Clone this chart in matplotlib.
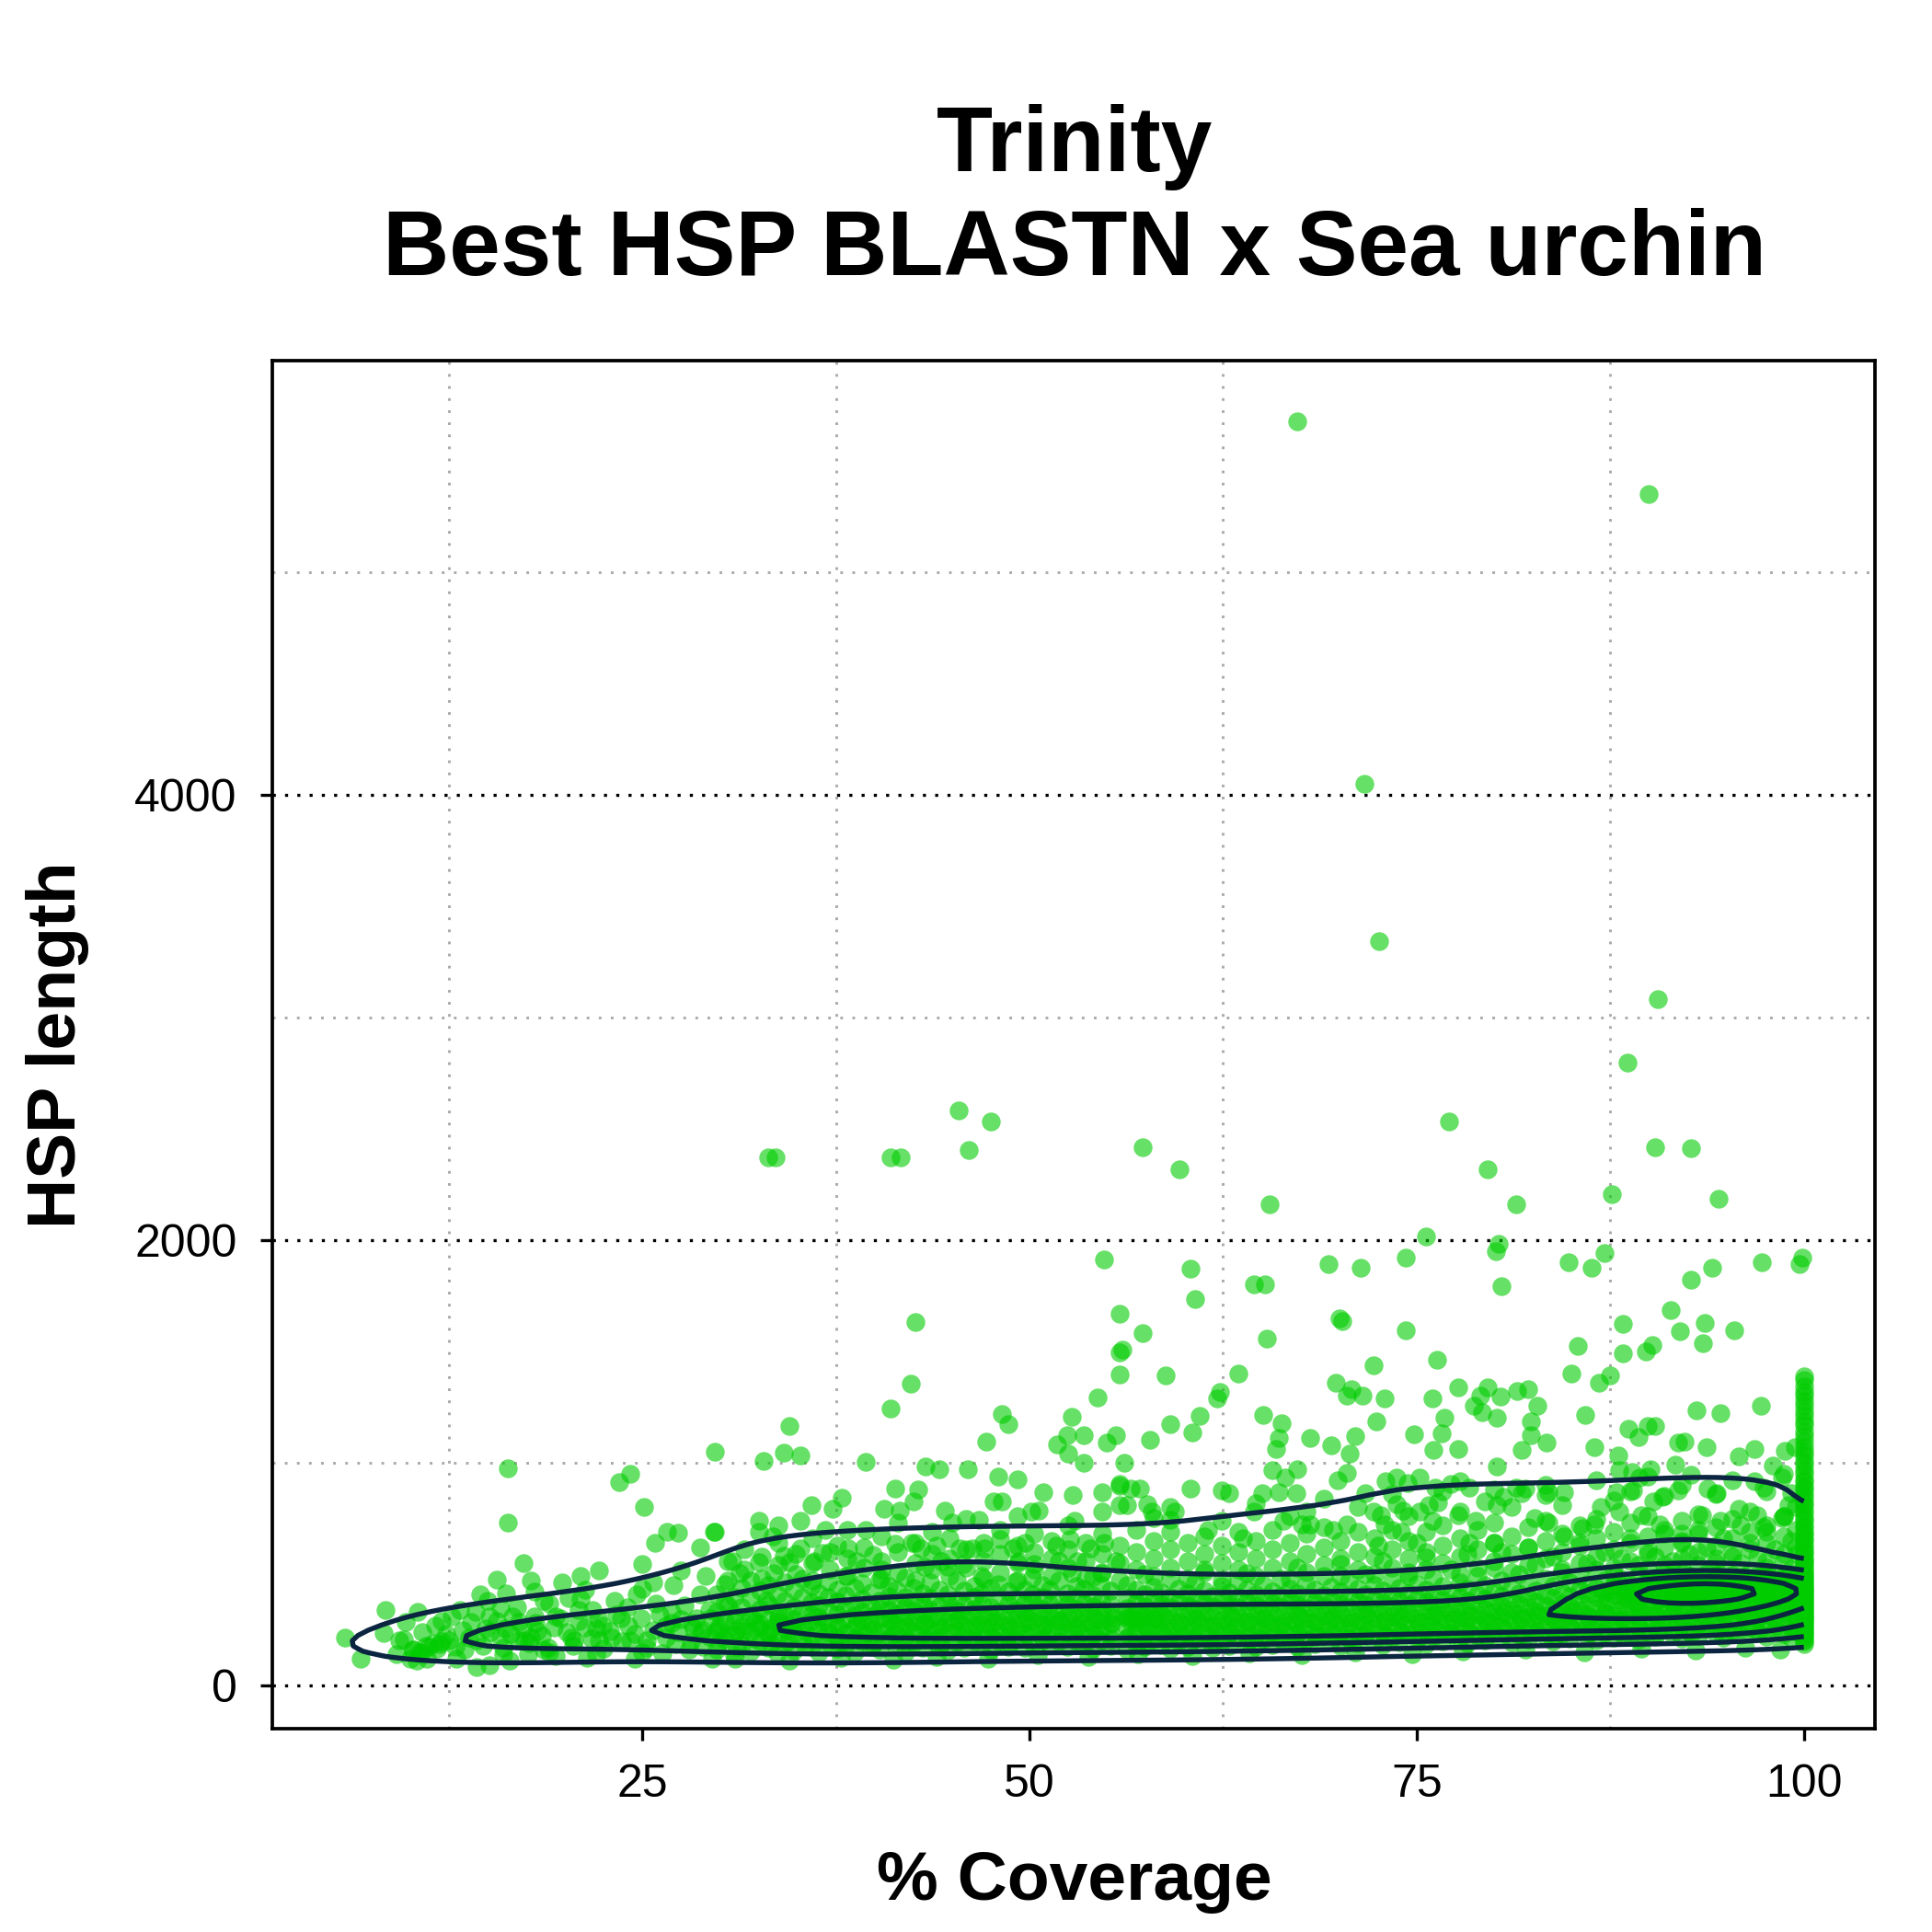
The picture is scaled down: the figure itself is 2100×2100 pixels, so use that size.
import numpy as np
import matplotlib
matplotlib.use("Agg")
import matplotlib.pyplot as plt

plt.rcParams['font.family'] = ['Liberation Sans', 'DejaVu Sans']

# ---- data (coverage %, HSP length) ----
# sparse high points
outliers = [
    (67.3, 5676), (90.0, 5350), (71.6, 4050), (72.6, 3342), (90.6, 3082), (88.6, 2797),
    (45.4, 2581), (47.5, 2533), (77.1, 2533), (33.1, 2373), (33.6, 2373), (41.0, 2373),
    (41.7, 2373), (46.1, 2405), (57.3, 2418), (59.7, 2319), (90.4, 2418), (92.7, 2414),
    (79.6, 2318), (65.5, 2160), (81.4, 2160), (94.5, 2187), (87.6, 2205),
    (75.6, 2017), (80.3, 1985), (80.1, 1950), (87.1, 1943), (84.8, 1902), (86.3, 1875),
    (97.3, 1902), (99.9, 1923), (99.7, 1893), (94.1, 1875), (92.7, 1820), (54.8, 1912),
    (60.4, 1873), (60.7, 1734), (55.8, 1671), (57.3, 1582), (56.0, 1510), (64.5, 1802),
    (65.2, 1802), (69.3, 1893), (71.4, 1875), (74.3, 1923), (80.5, 1795), (70.0, 1648),
    (70.2, 1636), (74.3, 1595), (65.3, 1558), (85.4, 1526), (88.3, 1623), (91.4, 1686),
    (92.0, 1592), (93.6, 1627), (95.5, 1595), (93.5, 1538), (90.2, 1530), (88.3, 1493),
    (89.8, 1499), (42.6, 1632),
    (55.8, 1496), (55.8, 1396), (58.8, 1393), (63.5, 1400), (72.2, 1437), (76.3, 1462),
    (69.8, 1358), (70.8, 1331), (70.5, 1303), (71.5, 1303), (72.9, 1290), (77.7, 1338),
    (79.6, 1338), (79.1, 1303), (80.4, 1296), (81.5, 1324), (76.0, 1290), (78.7, 1255),
    (79.2, 1228), (80.2, 1204), (76.8, 1204), (76.6, 1131), (76.1, 1058), (77.7, 1062),
    (74.8, 1127), (72.4, 1186), (71.0, 1120), (70.7, 1042), (69.5, 1080), (68.1, 1113),
    (66.3, 1179), (66.1, 1113), (65.9, 1062), (65.1, 1214), (62.3, 1320), (62.1, 1289),
    (61.0, 1210), (60.5, 1135), (59.1, 1172), (57.8, 1104), (55.6, 1124), (56.1, 998),
    (65.7, 966), (67.3, 973), (66.5, 932), (69.9, 921), (70.5, 956), (80.2, 984),
    (81.8, 1056), (85.0, 1402), (86.8, 1358), (87.5, 1393), (82.2, 1331), (82.8, 1255),
    (82.4, 1186), (82.4, 1124), (83.4, 1090), (85.9, 1214), (86.5, 1069), (88.7, 1152),
    (89.3, 1117), (89.9, 1166), (90.4, 1166), (93.1, 1235), (94.6, 1224), (97.2, 1255),
    (91.9, 1090), (92.3, 1097), (93.7, 1069), (96.8, 1062), (95.8, 1028), (98.8, 1055),
    (99.4, 1069), (88.0, 1035), (90.1, 973), (91.7, 993), (92.7, 945),
    (29.7, 1049), (32.8, 1007), (34.1, 1044), (35.2, 1035), (34.5, 1166), (39.4, 1003),
    (41.0, 1244), (42.3, 1354), (43.3, 984), (44.2, 973), (46.0, 970), (47.2, 1097),
    (48.2, 1221), (48.6, 1173), (48.0, 939), (49.2, 925), (51.8, 1083), (52.4, 1124),
    (52.7, 1207), (52.5, 1042), (53.5, 1124), (53.5, 998), (54.4, 1292), (55.0, 1090),
    (16.3, 974), (16.3, 732), (23.5, 914), (24.2, 951), (25.1, 800),
]

# mid-level points (roughly 450-950)
mid_points = [
    (29.7, 691), (32.5, 739), (32.5, 691), (33.4, 670), (35.2, 739), (35.9, 810),
    (36.8, 698), (37.3, 794), (37.9, 842), (39.4, 698), (40.6, 794), (41.3, 883),
    (41.6, 787), (42.5, 828), (42.8, 879), (44.5, 787), (45.0, 732), (46.7, 742),
    (47.7, 828), (48.2, 828), (50.1, 780), (50.6, 787), (50.9, 866), (52.8, 856),
    (54.7, 866), (52.9, 739), (55.8, 897), (55.8, 808),
    (30.8, 560), (32.5, 553), (31.3, 505), (33.5, 505), (34.1, 581), (34.5, 553),
    (35.2, 615), (36.1, 560), (36.6, 594), (37.6, 629), (38.3, 615), (38.8, 560),
    (39.9, 587), (40.4, 519), (41.3, 636), (42.4, 642), (43.0, 615), (43.2, 532),
    (44.0, 629), (44.3, 560), (44.7, 532), (45.5, 615), (45.7, 546), (46.3, 615),
    (47.1, 615), (48.1, 656), (48.9, 615), (49.3, 560), (49.7, 642), (50.3, 546),
    (51.7, 629), (51.9, 560), (52.6, 656), (53.1, 560), (53.9, 615), (54.8, 642),
    (55.6, 560), (52.7, 505), (54.6, 505),
    (55.8, 904), (56.5, 883), (57.1, 883), (56.3, 810), (57.6, 814), (57.9, 780),
    (59.1, 746), (60.4, 883), (62.4, 876), (62.9, 863), (64.5, 780), (65.0, 863),
    (66.1, 866), (67.2, 863), (67.6, 725), (68.1, 725), (67.9, 783), (66.4, 739),
    (69.6, 698), (70.5, 725), (71.7, 863), (72.2, 780), (72.7, 766), (72.9, 725),
    (73.7, 932), (74.4, 911), (75.2, 932), (73.7, 814), (74.1, 787), (75.2, 780),
    (75.8, 808), (76.4, 821), (76.0, 739), (77.2, 904), (77.8, 918), (78.4, 890),
    (77.7, 766), (78.8, 739), (79.4, 828), (80.2, 808), (80.6, 849), (81.4, 890),
    (81.8, 863), (74.0, 691), (72.5, 629), (75.0, 642), (78.4, 642), (80.0, 642),
    (76.2, 890), (73.0, 918), (58.0, 753), (59.4, 780), (61.5, 700), (63.8, 660),
    (88.1, 966), (88.9, 959), (89.4, 932), (89.0, 876), (87.9, 869), (86.9, 801),
    (88.1, 780), (90.3, 828), (90.9, 849), (91.9, 876), (83.5, 869), (84.5, 869),
    (83.3, 856), (82.0, 883), (82.6, 753), (83.5, 732), (85.7, 705), (84.5, 670),
    (86.5, 725), (89.5, 766), (90.7, 725), (92.1, 684), (93.4, 766), (94.6, 739),
    (95.8, 794), (97.0, 766), (97.4, 711), (98.6, 753), (99.0, 808), (99.2, 863),
    (93.8, 883), (94.4, 863), (96.8, 918), (97.4, 890), (98.0, 987), (98.6, 932),
]

# left tail of the cloud (coverage below ~35) and the lowest points
low_points = [
    (5.8, 216), (6.8, 119), (8.4, 340), (8.3, 236), (9.7, 286), (10.5, 331), (9.6, 207),
    (9.1, 140), (10.2, 160), (10.6, 150), (11.0, 180), (11.5, 190), (10.4, 110),
    (12.0, 200), (12.7, 310), (13.2, 340), (14.5, 410), (15.6, 477), (17.3, 550),
    (17.8, 472), (15.8, 348), (14.9, 258), (16.2, 413), (17.0, 285), (18.2, 244),
    (17.8, 216), (18.6, 381), (19.4, 311), (19.8, 463), (20.2, 393), (20.4, 216),
    (21.0, 492), (22.2, 517), (21.8, 339), (22.4, 270), (23.2, 381), (24.0, 353),
    (25.0, 546), (25.0, 435), (25.7, 463), (26.6, 690), (25.8, 642), (27.3, 686),
    (28.7, 620), (29.6, 690), (27.5, 517), (29.1, 492),
    (14.3, 84), (15.1, 91), (16.4, 112), (17.6, 140), (19.4, 132), (21.4, 124),
    (24.5, 119), (23.0, 216), (24.2, 202), (25.3, 202), (22.0, 258), (20.6, 202),
    (18.6, 161), (17.0, 202), (16.1, 258), (14.3, 202), (13.5, 161), (12.5, 202),
    (11.9, 186), (13.9, 285), (15.1, 311), (16.6, 311), (18.0, 311), (15.8, 216),
    (17.4, 202), (19.0, 368), (22.2, 202), (25.9, 368), (26.5, 270), (27.5, 297),
    (28.3, 258), (28.9, 174), (29.3, 339), (28.7, 409), (27.1, 186), (26.3, 145),
    (29.5, 119), (10.2, 161), (10.7, 145), (11.2, 174), (11.7, 166), (10.0, 119),
    (11.1, 119), (9.3, 202), (21.3, 430), (23.6, 300), (26.9, 330), (20.9, 290),
    (31.0, 120), (34.5, 112), (37.8, 126), (41.2, 118), (44.0, 130), (47.3, 122),
    (50.5, 135), (53.8, 128), (57.0, 140), (60.5, 132), (64.2, 145), (67.6, 138),
    (71.0, 150), (74.7, 142), (78.0, 155), (82.0, 160), (85.8, 150), (89.5, 165),
    (93.0, 158), (96.2, 170), (98.5, 162),
    (10.8, 240), (11.6, 270), (12.3, 230), (12.9, 175), (13.4, 250), (13.8, 215),
    (14.2, 330), (14.7, 180), (15.2, 240), (15.6, 290), (16.0, 170), (16.5, 230),
    (16.9, 350), (17.3, 255), (17.7, 190), (18.1, 280), (18.5, 225), (18.9, 170),
    (19.3, 260), (19.7, 300), (20.1, 240), (20.5, 180), (20.9, 340), (21.3, 260),
    (21.7, 210), (22.1, 300), (22.5, 165), (22.9, 245), (23.3, 320), (23.7, 200),
    (24.1, 270), (24.5, 230), (24.9, 300), (25.3, 170), (25.7, 250), (26.1, 320),
    (26.5, 215), (26.9, 280), (27.3, 240), (27.7, 360), (28.1, 200), (28.5, 300),
    (28.9, 250), (29.3, 220), (12.0, 290), (15.0, 380), (18.0, 420), (21.0, 390),
    (24.6, 410), (27.0, 450), (13.0, 120), (16.0, 140), (19.0, 150), (22.0, 140),
    (25.0, 150), (28.0, 160),
    (28.2, 280), (28.8, 235), (29.4, 300), (29.9, 255), (30.4, 225), (31.0, 290),
    (31.5, 245), (32.1, 320), (32.6, 260), (33.2, 230), (33.8, 300), (34.3, 250),
    (34.9, 270), (30.5, 360), (33.0, 380),
]

# dense core, one row of lengths per coverage value
core_rows = [
    (29.8, [160, 245, 330, 410]), (30.3, [205, 290, 372, 455]),
    (30.9, [138, 228, 318, 396]), (31.4, [182, 265, 350, 440]),
    (32.0, [152, 240, 305, 388, 470]), (32.6, [198, 276, 342, 425]),
    (33.1, [170, 232, 298, 365, 452]), (33.7, [145, 215, 285, 330, 408]),
    (34.2, [190, 262, 318, 380, 462]), (34.8, [158, 236, 296, 352, 428]),
    (35.3, [205, 270, 340, 395, 480]), (35.9, [172, 225, 288, 318, 372, 445]),
    (36.4, [148, 250, 305, 360, 412]), (37.0, [195, 242, 282, 336, 398, 468]),
    (37.6, [165, 218, 270, 322, 378, 430]), (38.1, [182, 236, 296, 348, 405, 492]),
    (38.7, [150, 210, 262, 315, 366, 440]), (39.2, [198, 248, 288, 330, 390, 458]),
    (39.8, [172, 226, 276, 312, 356, 418]), (40.3, [160, 240, 300, 345, 382, 475]),
    (40.9, [208, 258, 296, 338, 402, 446]), (41.4, [178, 232, 278, 322, 370, 428]),
    (42.0, [150, 215, 265, 305, 352, 398, 482]), (42.5, [192, 246, 290, 334, 376, 440]),
    (43.1, [168, 228, 272, 318, 362, 415]), (43.6, [205, 252, 296, 340, 392, 462]),
    (44.2, [176, 220, 268, 310, 355, 432]), (44.7, [158, 238, 286, 328, 372, 410]),
    (45.3, [195, 248, 292, 336, 385, 470]), (45.8, [170, 226, 270, 314, 360, 425]),
    (46.4, [210, 256, 300, 345, 396, 448]), (46.9, [182, 232, 278, 320, 366, 412, 490]),
    (47.5, [160, 218, 262, 306, 350, 438]), (48.0, [198, 246, 290, 330, 378, 455]),
    (48.6, [175, 228, 272, 316, 362, 420]), (49.1, [205, 252, 296, 338, 390, 468]),
    (49.7, [168, 236, 280, 322, 368, 432]), (50.2, [190, 244, 288, 330, 376, 410, 485]),
    (50.8, [215, 260, 302, 345, 398, 450]), (51.3, [182, 232, 276, 318, 362, 428]),
    (51.9, [200, 250, 294, 336, 385, 472]), (52.4, [172, 238, 282, 320, 366, 415]),
    (53.0, [210, 258, 300, 342, 392, 446]), (53.5, [188, 242, 286, 326, 370, 434]),
    (54.1, [165, 226, 270, 310, 356, 405, 488]), (54.6, [202, 254, 298, 338, 382, 452]),
    (55.2, [180, 236, 280, 320, 364, 425]),
    (56.3, [160, 215, 262, 305, 348, 392, 450]), (56.9, [188, 240, 285, 325, 372, 428]),
    (57.4, [172, 228, 270, 312, 356, 410, 500]), (58.0, [205, 252, 298, 336, 384, 442]),
    (58.5, [182, 236, 280, 322, 366, 418]), (59.1, [165, 218, 262, 304, 350, 398, 478]),
    (59.6, [198, 246, 290, 332, 378, 436]), (60.2, [176, 230, 274, 316, 360, 412]),
    (60.7, [210, 258, 300, 344, 390, 465]), (61.3, [186, 240, 284, 326, 370, 425, 520]),
    (61.8, [168, 224, 268, 310, 354, 402]), (62.4, [200, 250, 294, 338, 384, 448]),
    (62.9, [180, 234, 278, 320, 364, 416]), (63.5, [214, 262, 306, 350, 396, 470]),
    (64.0, [190, 244, 288, 330, 376, 430, 505]), (64.6, [172, 228, 272, 314, 360, 408]),
    (65.1, [205, 256, 300, 342, 388, 455]), (65.7, [184, 238, 282, 324, 370, 422]),
    (66.2, [218, 266, 310, 354, 400, 480]), (66.8, [194, 248, 292, 334, 380, 436]),
    (67.3, [176, 232, 276, 318, 364, 414, 530]), (67.9, [208, 258, 302, 346, 392, 460]),
    (68.4, [188, 242, 286, 328, 374, 428]), (69.0, [222, 270, 314, 358, 404, 490]),
    (69.5, [198, 252, 296, 338, 384, 442]), (70.1, [180, 236, 280, 322, 368, 420, 545]),
    (70.6, [212, 262, 306, 350, 396, 468]), (71.2, [192, 246, 290, 332, 378, 434]),
    (71.7, [226, 274, 318, 362, 410, 500]), (72.3, [202, 256, 300, 342, 388, 450]),
    (72.8, [184, 240, 284, 326, 372, 426, 560]), (73.4, [216, 266, 310, 354, 400, 475]),
    (73.9, [196, 250, 294, 336, 382, 440]), (74.5, [230, 278, 322, 366, 414, 510]),
    (75.0, [206, 260, 304, 346, 392, 455]), (75.6, [188, 244, 288, 330, 376, 430, 575]),
    (76.1, [220, 270, 314, 358, 404, 482]), (76.7, [200, 254, 298, 340, 386, 446]),
    (77.2, [234, 282, 326, 370, 418, 520]), (77.8, [210, 264, 308, 350, 396, 462]),
    (78.3, [192, 248, 292, 334, 380, 436, 590]), (78.9, [224, 274, 318, 362, 410, 490]),
    (79.4, [204, 258, 302, 344, 390, 452]), (80.0, [238, 286, 330, 374, 424, 530]),
    (80.5, [214, 268, 312, 356, 402, 470, 600]), (81.1, [196, 252, 296, 340, 386, 440]),
    (81.6, [228, 278, 322, 366, 414, 500]), (82.2, [208, 262, 306, 350, 398, 458, 620]),
    (82.7, [242, 290, 334, 378, 426, 540]), (83.3, [218, 272, 316, 360, 408, 478]),
    (83.8, [200, 256, 300, 344, 392, 446, 580]), (84.4, [232, 282, 326, 370, 418, 510]),
    (84.9, [212, 266, 310, 354, 400, 462]), (85.5, [246, 294, 338, 382, 430, 490, 640]),
    (86.0, [222, 276, 320, 364, 412, 455, 550]), (86.6, [204, 260, 304, 348, 396, 440, 520]),
    (87.1, [236, 286, 330, 374, 420, 470, 600]), (87.7, [216, 270, 314, 358, 404, 450, 500]),
    (88.2, [250, 298, 342, 386, 432, 478, 570]), (88.8, [226, 280, 324, 368, 410, 456, 660]),
    (89.3, [208, 264, 308, 352, 398, 440, 490, 540]),
    (89.9, [240, 290, 334, 378, 420, 462, 520, 610]),
    (90.4, [220, 274, 318, 362, 404, 446, 484, 580]),
    (91.0, [254, 302, 346, 390, 428, 466, 505, 680]),
    (91.5, [230, 284, 328, 372, 410, 450, 490, 560]),
    (92.1, [212, 268, 312, 356, 396, 434, 470, 520, 640]),
    (92.6, [244, 294, 338, 380, 418, 456, 494, 590]),
    (93.2, [224, 278, 322, 366, 404, 442, 480, 540, 700]),
    (93.7, [258, 306, 350, 392, 430, 468, 506, 620]),
    (94.3, [234, 288, 332, 374, 412, 450, 488, 570]),
    (94.8, [216, 272, 316, 360, 400, 438, 476, 520, 660]),
    (95.4, [248, 298, 342, 384, 422, 460, 498, 600]),
    (95.9, [228, 282, 326, 370, 408, 446, 484, 550, 720]),
    (96.5, [262, 310, 354, 396, 434, 472, 510, 640]),
    (97.0, [238, 292, 336, 378, 416, 454, 492, 580]),
    (97.6, [220, 276, 320, 364, 404, 442, 480, 530, 690]),
    (98.1, [252, 302, 346, 388, 426, 464, 502, 610]),
    (98.7, [232, 286, 330, 374, 412, 450, 488, 560, 760]),
    (99.2, [214, 266, 310, 354, 394, 432, 470, 520, 650]),
    (99.6, [244, 296, 340, 384, 424, 462, 500, 590]),
]

# band above the core (roughly 450-950)
upper_rows = [
    (30.5, [470, 560]), (31.6, [520, 610]), (32.7, [480, 580]), (33.8, [540, 640, 720]),
    (34.9, [500, 590]), (36.0, [470, 550, 660]), (37.1, [520, 600]),
    (38.2, [490, 570, 700]), (39.3, [530, 620]), (40.4, [480, 560, 670]),
    (41.5, [510, 600, 730]), (42.6, [470, 550, 640]), (43.7, [520, 590, 690]),
    (44.8, [490, 570, 660]), (45.9, [530, 610, 750]), (47.0, [480, 560, 640]),
    (48.1, [510, 590, 700]), (49.2, [470, 550, 630, 760]), (50.3, [520, 600, 680]),
    (51.4, [490, 570, 650]), (52.5, [530, 610, 720]), (53.6, [480, 560, 640]),
    (54.7, [510, 590, 680, 780]), (55.8, [470, 550, 630]), (56.9, [520, 600, 700]),
    (58.0, [490, 570, 650]), (59.1, [530, 610, 690, 800]), (60.2, [480, 560, 640]),
    (61.3, [510, 590, 670]), (62.4, [470, 550, 630, 740]), (63.5, [520, 600, 690]),
    (64.6, [490, 570, 650, 820]), (65.7, [530, 610, 700]), (66.8, [480, 560, 640, 760]),
    (67.9, [510, 590, 680]), (69.0, [540, 620, 710, 840]), (70.1, [490, 570, 650]),
    (71.2, [520, 600, 690, 800]), (72.3, [500, 580, 660]), (73.4, [530, 610, 700, 860]),
    (74.5, [490, 570, 650, 760]), (75.6, [520, 600, 690]), (76.7, [550, 630, 720, 870]),
    (77.8, [500, 580, 660, 780]), (78.9, [530, 610, 700]), (80.0, [560, 640, 730, 880]),
    (81.1, [510, 590, 670, 800]), (82.2, [540, 620, 710]), (83.3, [570, 650, 740, 900]),
    (84.4, [520, 600, 680, 810]), (85.5, [550, 630, 720]), (86.6, [580, 660, 750, 920]),
    (87.7, [530, 610, 690, 830]), (88.8, [560, 640, 730, 870]),
    (89.9, [590, 670, 760, 940]), (91.0, [540, 620, 700, 850]),
    (92.1, [570, 650, 740, 900]), (93.2, [600, 680, 770]), (94.3, [550, 630, 710, 860]),
    (95.4, [580, 660, 750, 920]), (96.5, [610, 690, 780]), (97.6, [560, 640, 720, 870]),
    (98.7, [590, 670, 760, 950]), (99.5, [620, 700, 800]),
]

# lower edge of the core, where the points pile up
bottom_rows = [
    (30.0, [195, 268]), (31.1, [175, 250]), (32.2, [210, 285]), (33.3, [185, 258]),
    (34.4, [200, 272]), (35.5, [178, 248]), (36.6, [215, 290]), (37.7, [190, 262]),
    (38.8, [205, 278]), (39.9, [182, 254]), (41.0, [218, 292]), (42.1, [194, 266]),
    (43.2, [208, 282]), (44.3, [186, 258]), (45.4, [222, 296]), (46.5, [198, 270]),
    (47.6, [212, 286]), (48.7, [190, 262]), (49.8, [226, 300]), (50.9, [202, 274]),
    (52.0, [216, 290]), (53.1, [194, 266]), (54.2, [230, 304]), (55.3, [206, 278]),
    (56.4, [220, 294]), (57.5, [198, 270]), (58.6, [234, 308]), (59.7, [210, 282]),
    (60.8, [224, 298]), (61.9, [202, 274]), (63.0, [238, 312]), (64.1, [214, 286]),
    (65.2, [228, 302]), (66.3, [206, 278]), (67.4, [242, 316]), (68.5, [218, 290]),
    (69.6, [232, 306]), (70.7, [210, 282]), (71.8, [246, 320]), (72.9, [222, 294]),
    (74.0, [236, 310]), (75.1, [214, 286]), (76.2, [250, 324]), (77.3, [226, 298]),
    (78.4, [240, 314]), (79.5, [218, 290]), (80.6, [254, 328]), (81.7, [230, 302]),
    (82.8, [244, 318]), (83.9, [222, 294]), (85.0, [258, 332]), (86.1, [234, 306]),
    (87.2, [248, 322]), (88.3, [226, 298]), (89.4, [262, 336]), (90.5, [238, 310]),
    (91.6, [252, 326]), (92.7, [230, 302]), (93.8, [266, 340]), (94.9, [242, 314]),
    (96.0, [256, 330]), (97.1, [234, 306]), (98.2, [270, 344]), (99.3, [246, 318]),
]

# densest patch near full coverage, and the small knot near 56 %
peak_rows = [
    (88.5, [395, 440]), (89.6, [410, 455]), (90.7, [388, 432, 470]), (91.8, [402, 446]),
    (92.9, [392, 436, 478]), (94.0, [408, 452]), (95.1, [396, 440, 482]),
    (96.2, [412, 456]), (97.3, [400, 444, 486]), (98.4, [416, 460]), (99.4, [404, 448]),
]
peak_points = [
    (89.2, 372), (89.7, 418), (90.1, 462), (90.6, 398), (91.1, 440), (91.5, 375),
    (91.9, 480), (92.3, 420), (92.8, 455), (93.2, 385), (93.6, 430), (94.1, 470),
    (94.5, 402), (94.9, 445), (95.3, 380), (95.7, 425), (96.1, 488), (96.5, 410),
    (96.9, 452), (97.3, 372), (97.7, 432), (98.1, 476), (98.5, 395), (98.9, 440),
    (99.3, 465), (99.6, 415), (89.5, 440), (90.4, 425), (91.3, 412), (92.1, 395),
    (93.0, 448), (93.9, 415), (94.7, 428), (95.5, 455), (96.3, 440), (97.1, 418),
    (97.9, 405), (98.7, 428), (99.1, 385), (99.5, 450), (90.9, 478), (92.6, 490),
    (94.3, 492), (96.0, 470), (97.5, 495), (99.0, 500), (88.6, 420), (88.1, 455),
    (87.5, 430), (87.0, 410),
    (55.4, 305), (56.1, 318), (56.8, 298), (57.4, 312), (58.0, 302), (56.5, 308),
]

# full-coverage column (coverage = 100)
full_cov_len = [
    1389, 1370, 1342, 1318, 1301, 1276, 1258, 1230, 1212, 1186, 1168, 1139, 1121, 1094,
    1072, 1049, 1033, 1008, 991, 968, 952, 927, 914, 893, 880, 858, 844, 823, 810, 788,
    774, 752, 740, 718, 707, 688, 677, 657, 648, 628, 617, 598, 590, 572, 564, 548, 540,
    524, 517, 502, 496, 482, 476, 463, 458, 445, 440, 428, 424, 412, 408, 396, 392, 380,
    376, 364, 360, 348, 344, 332, 328, 316, 312, 300, 296, 284, 280, 268, 262, 252, 244,
    236, 226, 218, 208, 198, 188,
]

# ---- assemble ----
pts = outliers + mid_points + low_points + peak_points
cov = [p[0] for p in pts]
hsp = [p[1] for p in pts]
for xv, ys in core_rows + upper_rows + bottom_rows + peak_rows:
    cov += [xv] * len(ys)
    hsp += ys
cov += [100.0] * len(full_cov_len)
hsp += full_cov_len
cov = np.array(cov)
hsp = np.array(hsp, dtype=float)


def kde2d(x, y, hx, hy, n=120):
    # gaussian 2-d density on a grid spanning the data range
    gx = np.linspace(x.min(), x.max(), n)
    gy = np.linspace(y.min(), y.max(), n * 2)
    ax_ = np.exp(-0.5 * ((gx[:, None] - x[None, :]) / hx) ** 2)
    ay_ = np.exp(-0.5 * ((gy[:, None] - y[None, :]) / hy) ** 2)
    z = ax_ @ ay_.T / (2 * np.pi * len(x) * hx * hy)
    return gx, gy, z


gx, gy, z = kde2d(cov, hsp, hx=6.5, hy=55)
levels = z.max() * np.arange(1, 7) / 6.5

fig = plt.figure(figsize=(7, 7), dpi=300)
ax = fig.add_axes([0.141, 0.1052, 0.8295, 0.7081])

# grid
for yv in [0, 2000, 4000]:
    ax.axhline(yv, color='black', lw=0.8, ls=(0, (1, 3)), zorder=0)
for yv in [1000, 3000, 5000]:
    ax.axhline(yv, color='#aaaaaa', lw=0.7, ls=(0, (1, 3.5)), zorder=0)
for xv in [12.5, 37.5, 62.5, 87.5]:
    ax.axvline(xv, color='#aaaaaa', lw=0.7, ls=(0, (1, 3.5)), zorder=0)

ax.scatter(cov, hsp, s=24, color='#00cc00', alpha=0.6, linewidths=0, zorder=2)
ax.contour(gx, gy, z.T, levels=levels, colors='#0b2540', linewidths=1.3, zorder=3)

ax.set_xlim(1.1, 104.6)
ax.set_ylim(-194, 5948)
ax.set_xticks([25, 50, 75, 100])
ax.set_yticks([0, 2000, 4000])
ax.tick_params(direction='out', length=3.2, width=0.8, labelsize=12, pad=6,
               top=False, right=False)
for s in ax.spines.values():
    s.set_linewidth(0.9)

fig.text(0.556, 0.924, 'Trinity', ha='center', va='center', fontsize=24, fontweight='bold')
fig.text(0.556, 0.870, 'Best HSP BLASTN x Sea urchin', ha='center', va='center',
         fontsize=24, fontweight='bold')
fig.text(0.556, 0.026, '% Coverage', ha='center', va='center', fontsize=18, fontweight='bold')
fig.text(0.030, 0.459, 'HSP length', ha='center', va='center', rotation=90,
         fontsize=18, fontweight='bold')

fig.savefig('out.png', dpi=300, facecolor='white')
